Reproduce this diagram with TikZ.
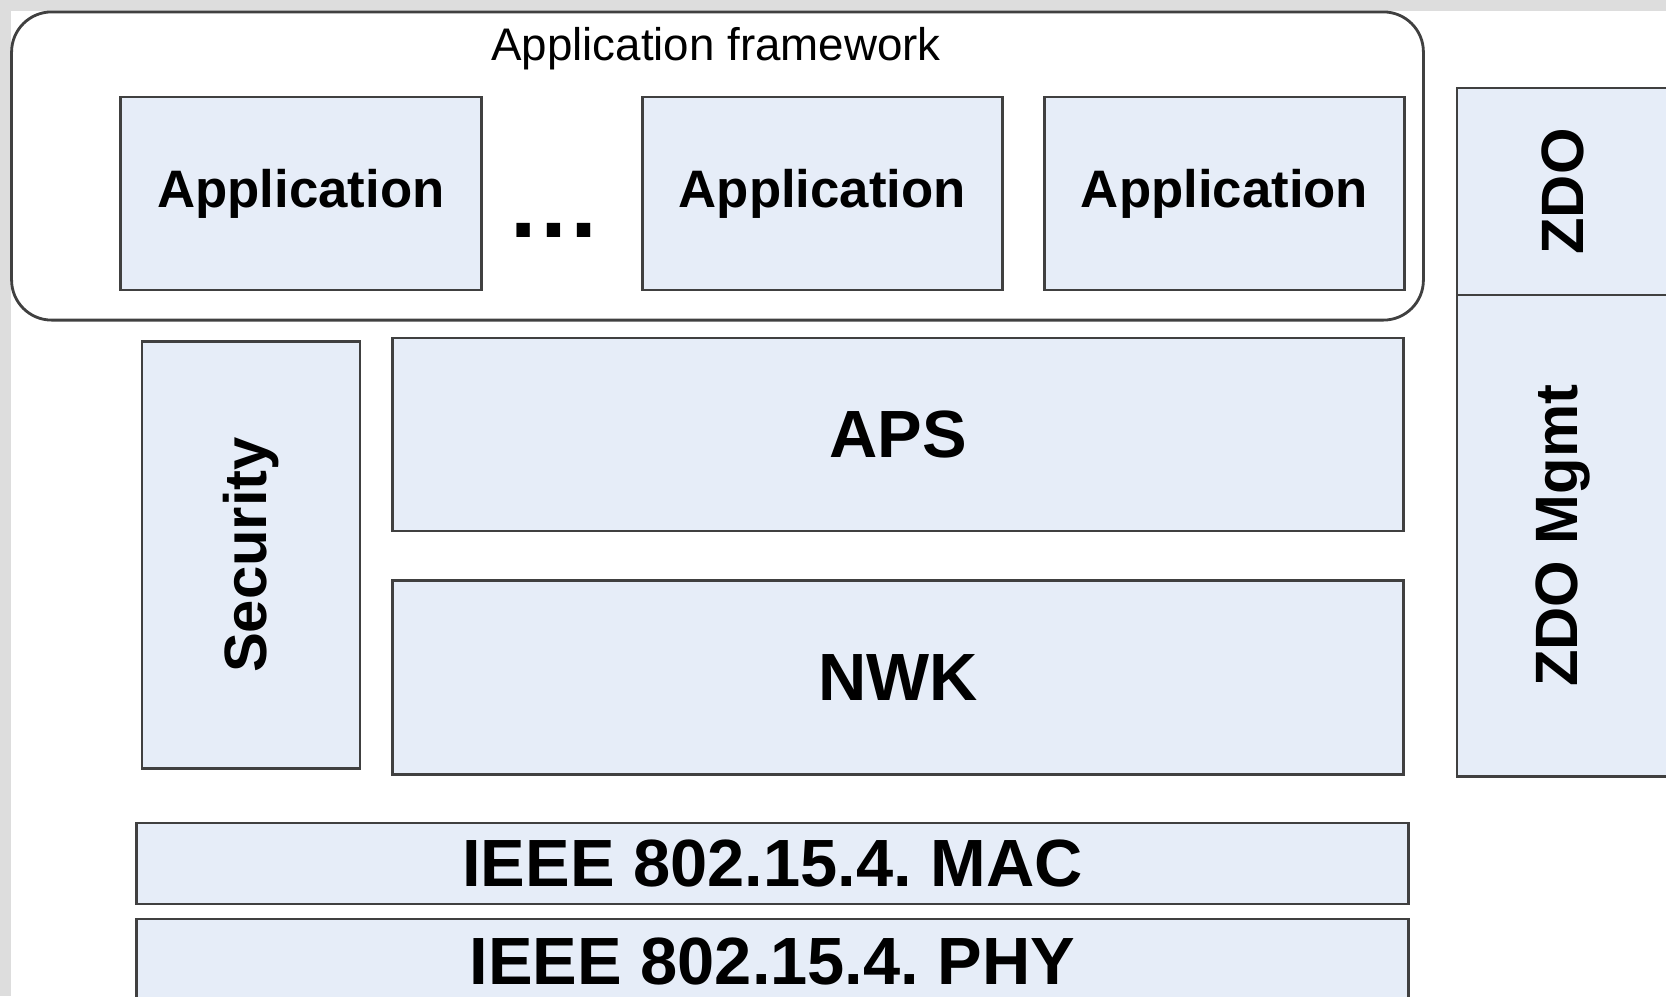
\documentclass[tikz,border=0pt]{standalone}
\usepackage{fontspec}
\setmainfont{Liberation Sans}
\usetikzlibrary{positioning}
\definecolor{pane}{HTML}{E6EDF8}
\definecolor{edge}{HTML}{404040}
\definecolor{margin}{HTML}{DDDDDD}
\frenchspacing
\begin{document}
\begin{tikzpicture}[x=0.01cm,y=-0.01cm,every node/.style={align=center,inner sep=0pt,outer sep=0pt},box/.style={draw=edge,fill=pane,line width=0.8pt},apptext/.style={font=\fontsize{15}{18}\selectfont\bfseries},layertext/.style={font=\fontsize{19}{23}\selectfont\bfseries},sidetext/.style={font=\fontsize{17}{20}\selectfont\bfseries,rotate=90}]
\useasboundingbox (0,0) rectangle (1666,996);
\fill[margin] (0,0) rectangle (1666,996);
\fill[white] (11,11) rectangle (1666,996);
\clip (0,0) rectangle (1666,996);
% application framework
\node[draw=edge,fill=white,line width=0.8pt,rounded corners=0.4cm,minimum width=14.11cm,minimum height=3.08cm] (frame) at (717.5,166) {};
\node[font=\fontsize{13}{15}\selectfont] (framelabel) at (716,49) {Application framework};
\node[box,apptext,minimum width=3.6cm,minimum height=1.93cm] (app1) at (301,193.5) {Application};
\node[box,apptext,minimum width=3.6cm,minimum height=1.93cm,right=1.61cm of app1] (app2) {Application};
\node[box,apptext,minimum width=3.6cm,minimum height=1.93cm,right=0.42cm of app2] (app3) {Application};
\node[font=\fontsize{27}{30}\selectfont\bfseries] (dots) at (554,230) {\ldots};
% stack
\node[box,layertext,minimum width=10.1cm,minimum height=1.93cm] (aps) at (898,434.5) {APS};
\node[box,layertext,minimum width=10.1cm,minimum height=1.94cm,below=0.49cm of aps] (nwk) {NWK};
\node[box,minimum width=2.18cm,minimum height=4.26cm] (sec) at (251,555) {};
\node[sidetext] (sectext) at (sec) {Security};
\node[box,layertext,minimum width=12.71cm,minimum height=0.81cm] (mac) at (772.5,863.5) {IEEE 802.15.4. MAC};
\node[box,layertext,minimum width=12.71cm,minimum height=0.85cm,below=0.15cm of mac] (phy) {IEEE 802.15.4. PHY};
% zdo column
\node[box,minimum width=2.11cm,minimum height=2.07cm] (zdo) at (1562.5,191.5) {};
\node[sidetext] (zdotext) at (zdo) {ZDO};
\node[box,minimum width=2.11cm,minimum height=4.81cm,below=0cm of zdo] (zdomgmt) {};
\node[sidetext] (zdomgmttext) at (zdomgmt) {ZDO Mgmt};
\end{tikzpicture}
\end{document}
